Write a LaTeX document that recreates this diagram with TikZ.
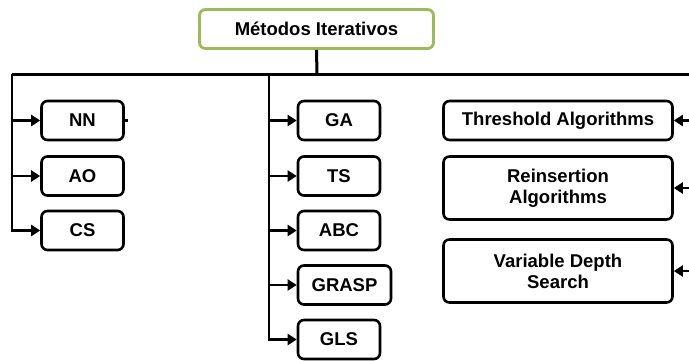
\documentclass[tikz,border=0pt]{standalone}
\usepackage{fontspec}
\setmainfont{Liberation Sans}
\usepackage{xcolor}
\usepackage{tikz}
\usetikzlibrary{arrows.meta,positioning}
\definecolor{MGreen}{HTML}{9BBB59}

\begin{document}
\begin{tikzpicture}[
  x=1pt,y=-1pt,
  every node/.style={font=\fontsize{18.5}{21}\selectfont\bfseries},
  root/.style={draw=MGreen,line width=2.8pt,rounded corners=6pt,fill=white,
    minimum width=234pt,minimum height=39pt,inner sep=0pt},
  leaf/.style={draw=black,line width=2.6pt,rounded corners=6pt,fill=white,
    minimum width=82pt,minimum height=39pt,inner sep=0pt,align=center},
  wide/.style={leaf,minimum width=229pt},
  tall/.style={wide,minimum height=63pt},
  bus/.style={line width=3pt,color=black},
  arr/.style={-{Triangle[length=9pt,width=11pt]},line width=2.5pt,color=black}
]
  \useasboundingbox (0,0) rectangle (689,360);
  \clip (0,0) rectangle (689,360);

  \node[root] (metodos) at (316.5,29) {Métodos Iterativos};

  \node[leaf] (nn)  at (82.5,120.5) {NN};
  \node[leaf] (ao)  at (82.5,176) {AO};
  \node[leaf] (cs)  at (82.5,230.5) {CS};

  \node[leaf] (ga)    at (339,120.5) {GA};
  \node[leaf] (ts)    at (339,176) {TS};
  \node[leaf] (abc)   at (339,230.5) {ABC};
  \node[leaf,minimum width=93pt] (grasp) at (344.5,285) {GRASP};
  \node[leaf] (gls)   at (339,339.5) {GLS};

  \node[wide] (threshold) at (558,120.5) {Threshold Algorithms};
  \node[tall] (reins) at (558,188) {Reinsertion\\Algorithms};
  \node[tall] (vds)   at (558,271) {Variable Depth\\Search};

  \coordinate (hub)  at (317,74);
  \coordinate (busL) at (12,74);
  \coordinate (busM) at (269,74);
  \coordinate (busR) at (705,74);
  \coordinate (nnstub) at (128,120.5);

  \draw[bus] (metodos.south) -- (hub);
  \draw[bus] (busL) -- (busR);
  \draw[bus] (nn.east) -- (nnstub);

  \foreach \n in {nn,ao,cs}
    \draw[arr] (busL) |- (\n.west);
  \foreach \n in {ga,ts,abc,grasp,gls}
    \draw[arr] (busM) |- (\n.west);
  \foreach \n in {threshold,reins,vds}
    \draw[arr] (busR) |- (\n.east);
\end{tikzpicture}
\end{document}
